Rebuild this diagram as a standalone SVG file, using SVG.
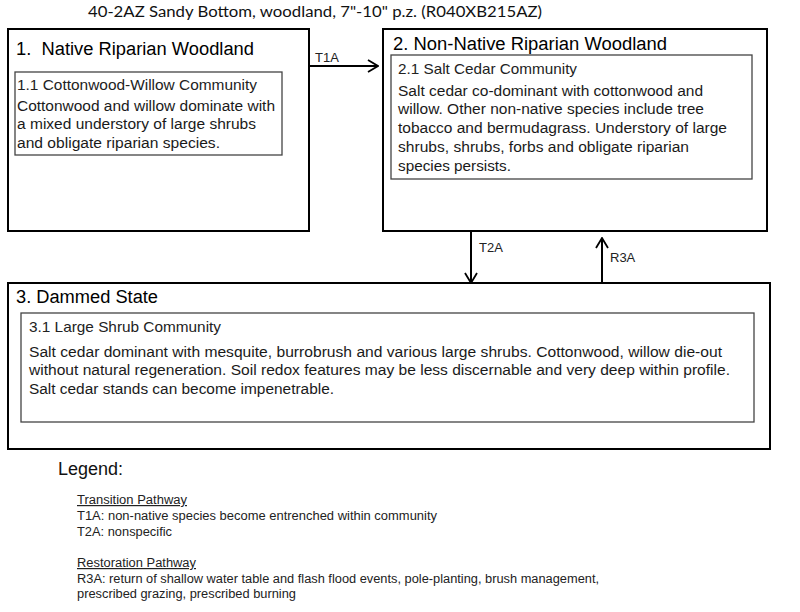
<svg xmlns="http://www.w3.org/2000/svg" width="800" height="612" viewBox="0 0 800 612">
<defs>
<style>
.outer{fill:#fff;stroke:#000;stroke-width:2}
.inner{fill:#fff;stroke:#444;stroke-width:1.3}
.st{font-family:"Liberation Sans",Arial,sans-serif;font-size:18px;fill:#000}
.sub{font-family:"Liberation Sans",Arial,sans-serif;font-size:15px;fill:#222}
.body{font-family:"Liberation Sans",Arial,sans-serif;font-size:15.5px;fill:#1a1a1a}
.lbl{font-family:"Liberation Sans",Arial,sans-serif;font-size:13px;fill:#222}
.leg{font-family:"Liberation Sans",Arial,sans-serif;font-size:12px;fill:#222}
.conn{stroke:#000;stroke-width:2;fill:none}
</style>
<marker id="arr" viewBox="0 0 12 14" markerWidth="12" markerHeight="14" refX="11" refY="7" orient="auto" markerUnits="userSpaceOnUse">
<path d="M1,1 L11,7 L1,13" fill="none" stroke="#000" stroke-width="1.8"/>
</marker>
</defs>
<rect width="800" height="612" fill="#fff"/>
<text x="88" y="17" font-family="Lato,'Liberation Sans',sans-serif" font-size="15.5" fill="#111" textLength="454" lengthAdjust="spacingAndGlyphs">40-2AZ Sandy Bottom, woodland, 7"-10" p.z. (R040XB215AZ)</text>

<g id="state1">
<rect class="outer" x="8" y="29" width="301" height="202"/>
<text class="st" x="16" y="55" textLength="238" lengthAdjust="spacingAndGlyphs" xml:space="preserve">1.  Native Riparian Woodland</text>
<rect class="inner" x="15" y="72" width="267" height="83"/>
<text class="sub" x="17" y="90" textLength="240" lengthAdjust="spacingAndGlyphs">1.1 Cottonwood-Willow Community</text>
<text class="body" x="17" y="111" textLength="258" lengthAdjust="spacingAndGlyphs">Cottonwood and willow dominate with</text>
<text class="body" x="17" y="129" textLength="239" lengthAdjust="spacingAndGlyphs">a mixed understory  of large shrubs</text>
<text class="body" x="17" y="148" textLength="203" lengthAdjust="spacingAndGlyphs">and obligate riparian species.</text>
</g>

<g id="state2">
<rect class="outer" x="383" y="29" width="384" height="202"/>
<text class="st" x="393" y="50" textLength="274" lengthAdjust="spacingAndGlyphs">2. Non-Native Riparian Woodland</text>
<rect class="inner" x="391" y="55" width="361" height="124"/>
<text class="sub" x="398" y="74" textLength="179" lengthAdjust="spacingAndGlyphs">2.1 Salt Cedar Community</text>
<text class="body" x="398" y="96" textLength="305" lengthAdjust="spacingAndGlyphs">Salt cedar co-dominant with cottonwood and</text>
<text class="body" x="398" y="114" textLength="306" lengthAdjust="spacingAndGlyphs">willow. Other  non-native  species include tree</text>
<text class="body" x="398" y="133" textLength="329" lengthAdjust="spacingAndGlyphs">tobacco and bermudagrass. Understory  of large</text>
<text class="body" x="398" y="152" textLength="291" lengthAdjust="spacingAndGlyphs">shrubs,  shrubs,  forbs and obligate riparian</text>
<text class="body" x="398" y="171" textLength="113" lengthAdjust="spacingAndGlyphs">species persists.</text>
</g>

<g id="state3">
<rect class="outer" x="8" y="283" width="762" height="166"/>
<text class="st" x="16" y="303" textLength="142" lengthAdjust="spacingAndGlyphs">3. Dammed State</text>
<rect class="inner" x="21" y="313" width="733" height="109"/>
<text class="sub" x="29" y="332" textLength="192" lengthAdjust="spacingAndGlyphs">3.1 Large Shrub Community</text>
<text class="body" x="29" y="357" textLength="693" lengthAdjust="spacingAndGlyphs">Salt cedar dominant with mesquite, burrobrush and various large shrubs.  Cottonwood, willow die-out</text>
<text class="body" x="29" y="375" textLength="701" lengthAdjust="spacingAndGlyphs">without natural regeneration. Soil redox features may be less discernable and very deep within profile.</text>
<text class="body" x="29" y="394" textLength="305" lengthAdjust="spacingAndGlyphs">Salt cedar stands can become impenetrable.</text>
</g>

<g id="connectors">
<line class="conn" x1="309" y1="66" x2="378" y2="66" marker-end="url(#arr)"/>
<text class="lbl" x="315" y="62">T1A</text>
<line class="conn" x1="471" y1="231" x2="471" y2="283" marker-end="url(#arr)"/>
<text class="lbl" x="479" y="252">T2A</text>
<line class="conn" x1="602" y1="282" x2="602" y2="238" marker-end="url(#arr)"/>
<text class="lbl" x="610" y="262">R3A</text>
</g>

<g id="legend">
<text x="58" y="475" font-family="'Liberation Sans',Arial,sans-serif" font-size="18" fill="#111">Legend:</text>
<text class="leg" x="77" y="504" text-decoration="underline" textLength="110" lengthAdjust="spacingAndGlyphs">Transition Pathway</text>
<text class="leg" x="77" y="520" textLength="360" lengthAdjust="spacingAndGlyphs">T1A: non-native  species become entrenched within community</text>
<text class="leg" x="77" y="536" textLength="95" lengthAdjust="spacingAndGlyphs">T2A: nonspecific</text>
<text class="leg" x="77" y="567" text-decoration="underline" textLength="119" lengthAdjust="spacingAndGlyphs">Restoration Pathway</text>
<text class="leg" x="77" y="583" textLength="522" lengthAdjust="spacingAndGlyphs">R3A: return of shallow water table and flash flood events, pole-planting, brush management,</text>
<text class="leg" x="77" y="598" textLength="219" lengthAdjust="spacingAndGlyphs">prescribed grazing, prescribed burning</text>
</g>
</svg>
